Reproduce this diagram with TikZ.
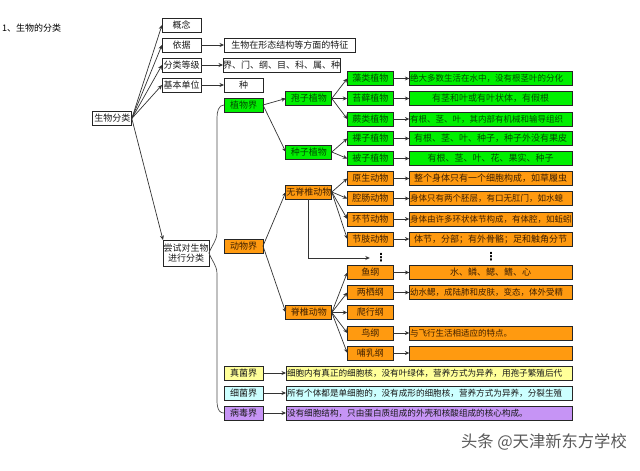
\documentclass[tikz,border=0pt]{standalone}
\usepackage{fontspec}
\setmainfont{Noto Sans CJK SC}
\newfontfamily\dotsfont{DejaVu Sans}
\usetikzlibrary{arrows.meta}
\tikzset{>={Stealth[length=4.5pt, width=4pt]}}
\definecolor{plantgreen}{HTML}{00F000}
\definecolor{animalorange}{HTML}{FF9A10}
\definecolor{fungiyellow}{HTML}{FFFF99}
\definecolor{germcyan}{HTML}{CCFFFF}
\definecolor{viruspurple}{HTML}{C694F5}
\tikzset{
	box/.style = {draw = black!85, line width = 0.8pt, inner xsep = 0pt, inner ysep = 0pt, outer sep = 0pt,
		minimum height = 14pt, font = \fontsize{9}{10.5}\selectfont, text = black!90},
	shortbox/.style = {box, minimum width = 39pt},
	midbox/.style = {box, minimum width = 46pt},
	descbox/.style = {box, minimum width = 162.7pt},
	descleft/.style = {descbox, text width = 161pt, align = left, font = \fontsize{8.5}{10}\selectfont},
	widebox/.style = {box, minimum width = 286pt, text width = 284pt, align = left, font = \fontsize{8.6}{10}\selectfont},
	plant/.style = {fill = plantgreen, text = green!30!black},
	animal/.style = {fill = animalorange, text = orange!25!black},
	fungi/.style = {fill = fungiyellow},
	germ/.style = {fill = germcyan},
	virus/.style = {fill = viruspurple},
	link/.style = {->, draw = black!80, line width = 0.7pt},
	trunk/.style = {draw = black!70, line width = 0.7pt},
	gap/.style = {inner sep = 0pt, font = \dotsfont\bfseries\fontsize{11}{12}\selectfont}
}
\begin{document}
\begin{tikzpicture}[x=1pt, y=-1pt]
	\useasboundingbox (0,0) rectangle (640,471);
	\node (title) at (2,28) [anchor = west, inner sep = 0pt, font = \fontsize{9}{10.5}\selectfont] {1、生物的分类};
	\node (mark) at (627,442) [anchor = east, inner sep = 0pt, font = \fontsize{16.3}{18}\selectfont, text = black!65] {头条 @天津新东方学校};

	\node (root) at (112.3,118.5) [shortbox] {生物分类};
	\node (concept) at (181.5,25) [shortbox] {概念};
	\node (basis) at (181.5,45) [shortbox] {依据};
	\node (rank) at (181.5,65) [shortbox] {分类等级};
	\node (unit) at (181.5,85) [shortbox] {基本单位};
	\node (trial) at (186,253) [midbox, minimum height = 26pt, align = center] {尝试对生物\\进行分类};
	\node (basisdesc) at (289.8,45) [box, minimum width = 131.5pt] {生物在形态结构等方面的特征};
	\node (rankdesc) at (281.5,65) [box, minimum width = 115pt] {界、门、纲、目、科、属、种};
	\node (unitdesc) at (243.5,85) [shortbox] {种};

	\node (plantae) at (243.5,105) [shortbox, plant] {植物界};
	\node (spore) at (308.8,98.5) [midbox, plant] {孢子植物};
	\node (seed) at (308.8,152) [midbox, plant] {种子植物};
	\node (algae) at (370.3,78.5) [midbox, plant] {藻类植物};
	\node (moss) at (370.3,98.5) [midbox, plant] {苔藓植物};
	\node (fern) at (370.3,119) [midbox, plant] {蕨类植物};
	\node (gymno) at (370.3,138.5) [midbox, plant] {裸子植物};
	\node (angio) at (370.3,158.5) [midbox, plant] {被子植物};
	\node (algaedesc) at (490.7,78.5) [descleft, plant] {绝大多数生活在水中，没有根茎叶的分化};
	\node (mossdesc) at (490.7,98.5) [descbox, plant] {有茎和叶或有叶状体，有假根};
	\node (ferndesc) at (490.7,119) [descleft, plant] {有根、茎、叶，其内部有机械和输导组织};
	\node (gymnodesc) at (490.7,138.5) [descbox, plant] {有根、茎、叶、种子，种子外没有果皮};
	\node (angiodesc) at (490.7,158.5) [descbox, plant] {有根、茎、叶、花、果实、种子};

	\node (animalia) at (243.5,246) [shortbox, animal] {动物界};
	\node (invert) at (308.8,192) [midbox, animal] {无脊椎动物};
	\node (vert) at (308.8,312.5) [midbox, animal] {脊椎动物};
	\node (proto) at (370.3,178.5) [midbox, animal] {原生动物};
	\node (coel) at (370.3,198.5) [midbox, animal] {腔肠动物};
	\node (annel) at (370.3,219) [midbox, animal] {环节动物};
	\node (arthro) at (370.3,239) [midbox, animal] {节肢动物};
	\node (fish) at (370.3,272.5) [midbox, animal] {鱼纲};
	\node (amphi) at (370.3,292.5) [midbox, animal] {两栖纲};
	\node (rept) at (370.3,312.5) [midbox, animal] {爬行纲};
	\node (bird) at (370.3,333) [midbox, animal] {鸟纲};
	\node (mammal) at (370.3,353) [midbox, animal] {哺乳纲};
	\node (protodesc) at (490.7,178.5) [descbox, animal] {整个身体只有一个细胞构成，如草履虫};
	\node (coeldesc) at (490.7,198.5) [descleft, animal] {身体只有两个胚层，有口无肛门，如水螅};
	\node (anneldesc) at (490.7,219) [descleft, animal] {身体由许多环状体节构成，有体腔，如蚯蚓};
	\node (arthrodesc) at (490.7,239) [descbox, animal] {体节，分部；有外骨骼；足和触角分节};
	\node (fishdesc) at (490.7,272.5) [descbox, animal] {水、鳞、鳃、鳍、心};
	\node (amphidesc) at (490.7,292.5) [descleft, animal] {幼水鳃，成陆肺和皮肤，变态，体外受精};
	\node (birddesc) at (490.7,333) [descleft, animal] {与飞行生活相适应的特点。};
	\node (mammaldesc) at (490.7,353) [descbox, animal] {};
	\node (dotsleft) at (381,258) [gap, minimum width = 22pt] {⋮};
	\node (dotsright) at (491,257) [gap] {⋮};

	\node (fungus) at (243.5,373) [shortbox, fungi] {真菌界};
	\node (germs) at (243.5,393) [shortbox, germ] {细菌界};
	\node (viruses) at (243.5,413) [shortbox, virus] {病毒界};
	\node (fungusdesc) at (429,373) [widebox, fungi] {细胞内有真正的细胞核，没有叶绿体，营养方式为异养，用孢子繁殖后代};
	\node (germsdesc) at (429,393) [widebox, germ] {所有个体都是单细胞的，没有成形的细胞核，营养方式为异养，分裂生殖};
	\node (virusesdesc) at (429,413) [widebox, virus] {没有细胞结构，只由蛋白质组成的外壳和核酸组成的核心构成。};

	\draw[link] (root.east) -- (concept.west);
	\draw[link] (root.east) -- (basis.west);
	\draw[link] (root.east) -- (rank.west);
	\draw[link] (root.east) -- (unit.west);
	\draw[link] (root.east) -- (trial.north west);
	\draw[link] (basis) -- (basisdesc);
	\draw[link] (rank) -- (rankdesc);
	\draw[link] (unit) -- (unitdesc);

	\coordinate (uptop) at (217,118);
	\coordinate (upbottom) at (217,232);
	\coordinate (downtop) at (217,274);
	\coordinate (downbottom) at (217,394);
	\draw[trunk] (trial.east) to[out = 70, in = -90] (upbottom) -- (uptop) to[out = 90, in = 180] (plantae.west);
	\draw[trunk] (trial.east) to[out = -70, in = 90] (downtop) -- (downbottom) to[out = -90, in = 180] (viruses.west);

	\draw[link] (plantae.east) -- (spore.west);
	\draw[link] (plantae.east) -- (seed.west);
	\draw[link] (spore.east) -- (algae.west);
	\draw[link] (spore.east) -- (moss.west);
	\draw[link] (spore.east) -- (fern.west);
	\draw[link] (seed.east) -- (gymno.west);
	\draw[link] (seed.east) -- (angio.west);
	\draw[link] (algae) -- (algaedesc);
	\draw[link] (moss) -- (mossdesc);
	\draw[link] (fern) -- (ferndesc);
	\draw[link] (gymno) -- (gymnodesc);
	\draw[link] (angio) -- (angiodesc);

	\draw[link] (animalia.east) -- (invert.west);
	\draw[link] (animalia.east) -- (vert.west);
	\draw[link] (invert.east) -- (proto.west);
	\draw[link] (invert.east) -- (coel.west);
	\draw[link] (invert.east) -- (annel.west);
	\draw[link] (invert.east) -- (arthro.west);
	\draw[link] (invert.south) |- (dotsleft.west);
	\draw[link] (vert.east) -- (fish.west);
	\draw[link] (vert.east) -- (amphi.west);
	\draw[link] (vert.east) -- (rept.west);
	\draw[link] (vert.east) -- (bird.west);
	\draw[link] (vert.east) -- (mammal.west);
	\draw[link] (proto) -- (protodesc);
	\draw[link] (coel) -- (coeldesc);
	\draw[link] (annel) -- (anneldesc);
	\draw[link] (arthro) -- (arthrodesc);
	\draw[link] (fish) -- (fishdesc);
	\draw[link] (amphi) -- (amphidesc);
	\draw[link] (bird) -- (birddesc);
	\draw[link] (mammal) -- (mammaldesc);

	\draw[link] (fungus) -- (fungusdesc);
	\draw[link] (germs) -- (germsdesc);
	\draw[link] (viruses) -- (virusesdesc);
\end{tikzpicture}
\end{document}
